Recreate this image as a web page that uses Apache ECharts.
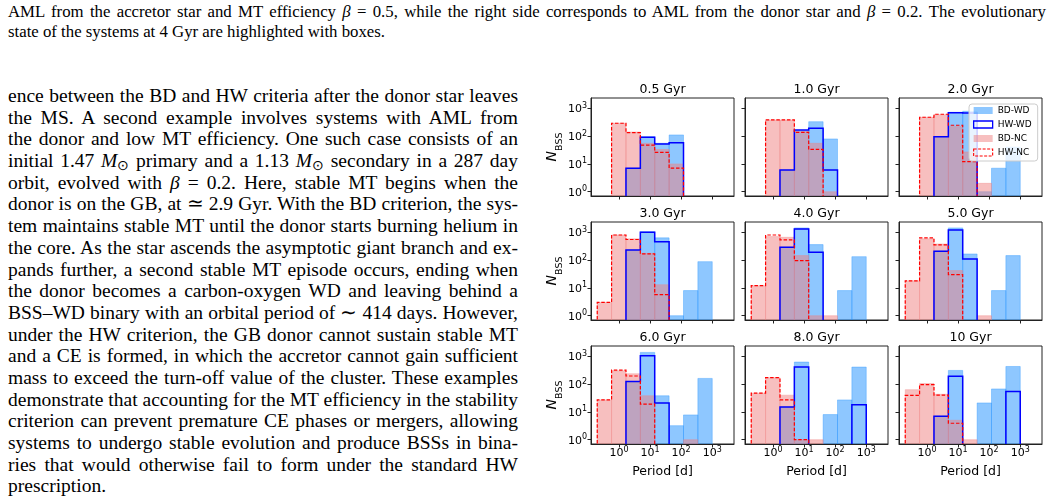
<!DOCTYPE html>
<html><head><meta charset="utf-8">
<script src="https://cdn.jsdelivr.net/npm/echarts@6/dist/echarts.min.js"></script>
<style>
html,body{margin:0;padding:0;background:#fff;width:1056px;height:502px;overflow:hidden;}
.serif{font-family:"Liberation Serif","Times New Roman",serif;color:#000;position:absolute;}
#cap{left:8px;top:2px;width:1038px;font-size:16.8px;}
#cap .l{height:20px;line-height:20px;}
#body{left:8px;top:85px;width:510px;font-size:19.5px;}
#body .l{height:21.7px;line-height:21.7px;}
.l{display:block;white-space:nowrap;text-align:left;}
sub{font-size:0.7em;vertical-align:-0.25em;line-height:0;}
i{font-style:italic;}
#chart{position:absolute;left:530px;top:70px;width:526px;height:432px;}
</style></head>
<body>
<div id="cap" class="serif">
<div class="l">AML from the accretor star and MT efficiency <i>β</i> = 0.5, while the right side corresponds to AML from the donor star and <i>β</i> = 0.2. The evolutionary</div>
<div class="l last">state of the systems at 4 Gyr are highlighted with boxes.</div>
</div>
<div id="body" class="serif">
<div class="l">ence between the BD and HW criteria after the donor star leaves</div>
<div class="l">the MS. A second example involves systems with AML from</div>
<div class="l">the donor and low MT efficiency. One such case consists of an</div>
<div class="l">initial 1.47 <i>M</i><sub>⊙</sub> primary and a 1.13 <i>M</i><sub>⊙</sub> secondary in a 287 day</div>
<div class="l">orbit, evolved with <i>β</i> = 0.2. Here, stable MT begins when the</div>
<div class="l">donor is on the GB, at ≃ 2.9 Gyr. With the BD criterion, the sys-</div>
<div class="l">tem maintains stable MT until the donor starts burning helium in</div>
<div class="l">the core. As the star ascends the asymptotic giant branch and ex-</div>
<div class="l">pands further, a second stable MT episode occurs, ending when</div>
<div class="l">the donor becomes a carbon-oxygen WD and leaving behind a</div>
<div class="l">BSS–WD binary with an orbital period of ∼ 414 days. However,</div>
<div class="l">under the HW criterion, the GB donor cannot sustain stable MT</div>
<div class="l">and a CE is formed, in which the accretor cannot gain sufficient</div>
<div class="l">mass to exceed the turn-off value of the cluster. These examples</div>
<div class="l">demonstrate that accounting for the MT efficiency in the stability</div>
<div class="l">criterion can prevent premature CE phases or mergers, allowing</div>
<div class="l">systems to undergo stable evolution and produce BSSs in bina-</div>
<div class="l">ries that would otherwise fail to form under the standard HW</div>
<div class="l last">prescription.</div>
</div>
<div id="chart"></div>
<script>
// justify each typeset line to its column width
document.querySelectorAll('.l').forEach(el => {
  if (el.classList.contains('last')) return;
  const target = el.parentElement.clientWidth;
  el.style.display = 'inline-block';
  const natural = el.getBoundingClientRect().width;
  el.style.display = 'block';
  const spaces = (el.textContent.replace(/\s+/g, ' ').trim().match(/ /g) || []).length;
  if (spaces > 0) el.style.wordSpacing = ((target - natural) / spaces) + 'px';
});

// ---- data ----
const ages = ['0.5 Gyr','1.0 Gyr','2.0 Gyr','3.0 Gyr','4.0 Gyr','5.0 Gyr','6.0 Gyr','8.0 Gyr','10 Gyr'];
const periodEdges = [0.2, 0.578, 1.68, 4.87, 14.1, 41.0, 119, 345, 1000];
const periodTicks = [1, 10, 100, 1000];
const countTicks = [1, 10, 100, 1000];
const seriesNames = ['BD-WD', 'HW-WD', 'BD-NC', 'HW-NC'];
const bdWD = [
  [0, 0, 7, 95, 55, 110, 0, 0],
  [0, 0, 6, 158, 330, 79, 0, 0],
  [0, 0, 96, 720, 780, 1, 7, 40],
  [0, 0, 230, 1050, 630, 1, 8, 88],
  [0, 0, 290, 1440, 360, 0, 8, 133],
  [0, 0, 210, 1440, 166, 0, 8, 145],
  [0, 0, 123, 1380, 38, 3.2, 7.8, 160],
  [0, 0, 15, 620, 0, 8, 27, 410],
  [0, 0, 7, 310, 0, 21, 67, 430]
];
const hwWD = [
  [0, 0, 7, 90, 52, 58, 0, 0],
  [0, 0, 6, 166, 190, 6, 0, 0],
  [0, 0, 95, 690, 680, 0, 0, 0],
  [0, 0, 230, 1000, 460, 0, 0, 0],
  [0, 0, 290, 1320, 190, 0, 0, 0],
  [0, 0, 210, 1200, 110, 0, 0, 0],
  [0, 0, 123, 1050, 21, 0, 0, 0],
  [0, 0, 15, 410, 0, 0, 0, 18],
  [0, 0, 7, 190, 0, 0, 0, 54]
];
const bdNC = [
  [0, 290, 140, 55, 33, 10, 0, 0],
  [0, 380, 380, 145, 55, 1, 0, 0],
  [0, 475, 590, 220, 27, 2, 0, 0],
  [3, 800, 580, 175, 13, 0, 0, 0],
  [12, 700, 660, 145, 1, 1, 0, 0],
  [18, 580, 380, 42, 0, 1, 0, 0],
  [27, 300, 235, 38, 0, 0, 1, 0],
  [47, 170, 40, 1, 1, 0, 0, 0],
  [63, 105, 43, 5, 1, 0, 0, 0]
];
const hwNC = [
  [0, 290, 133, 47, 26, 7, 0, 0],
  [0, 380, 380, 137, 33, 0, 0, 0],
  [0, 475, 610, 245, 12, 0, 0, 0],
  [3, 800, 550, 166, 5.7, 0, 0, 0],
  [12, 800, 530, 96, 0, 0, 0, 0],
  [18, 630, 350, 30, 0, 0, 0, 0],
  [27, 320, 195, 19, 0, 0, 0, 0],
  [47, 170, 27, 1, 0, 0, 0, 0],
  [39, 96, 40, 3.9, 0, 0, 0, 0]
];

// ---- layout / style ----
const colLeft = [61, 215, 369], rowTop = [28, 152, 276], W = 143, H = 98;
const xMin = Math.pow(10, -0.9), xMax = Math.pow(10, 3.7);
const yMin = Math.pow(10, -0.155), yMax = Math.pow(10, 3.37);
const yFloor = 1e-3;
const FONT = 'DejaVu Sans';
const blueFill = 'rgba(30,144,255,0.5)', pinkFill = 'rgba(240,128,128,0.5)';
const blueLine = '#0000ff', redLine = '#ff0000';
const spine = '#222';

const rich = {
  b: {fontSize: 11, fontFamily: FONT, color: '#000', lineHeight: 13, verticalAlign: 'bottom'},
  s: {fontSize: 8, fontFamily: FONT, color: '#000', lineHeight: 9, verticalAlign: 'top'}
};
const fmt = v => '{b|10}{s|' + Math.round(Math.log10(v)) + '}';

const grids = [], xAxes = [], yAxes = [], series = [], graphics = [];
for (let i = 0; i < 9; i++) {
  const c = i % 3, r = Math.floor(i / 3);
  grids.push({left: colLeft[c], top: rowTop[r], width: W, height: H, show: true,
    borderColor: spine, borderWidth: 1, backgroundColor: 'transparent'});
  xAxes.push({type: 'log', logBase: 10, gridIndex: i, min: xMin, max: xMax, z: 5,
    axisLine: {show: true, lineStyle: {color: spine, width: 1}},
    axisTick: {show: true, inside: false, length: 3.5, lineStyle: {color: spine, width: 1}, customValues: periodTicks},
    axisLabel: {show: r === 2, customValues: periodTicks, margin: 2, formatter: fmt, rich: rich},
    splitLine: {show: false}, minorTick: {show: false}});
  yAxes.push({type: 'log', logBase: 10, gridIndex: i, min: yMin, max: yMax, z: 5,
    axisLine: {show: true, lineStyle: {color: spine, width: 1}},
    axisTick: {show: true, inside: false, length: 3.5, lineStyle: {color: spine, width: 1}, customValues: countTicks},
    axisLabel: {show: c === 0, customValues: countTicks, margin: 4, formatter: fmt, rich: rich},
    splitLine: {show: false}, minorTick: {show: false}});

  const fillSeries = (name, counts, color) => ({
    type: 'custom', name: name, xAxisIndex: i, yAxisIndex: i, clip: true, z: 2, silent: true,
    data: counts.map((v, k) => [periodEdges[k], periodEdges[k + 1], v]).filter(d => d[2] > 0),
    encode: {x: [0, 1], y: 2},
    renderItem: (params, api) => {
      const p0 = api.coord([api.value(0), api.value(2)]);
      const p1 = api.coord([api.value(1), yFloor]);
      return {type: 'rect', shape: {x: p0[0], y: p0[1], width: p1[0] - p0[0], height: p1[1] - p0[1]},
        style: {fill: color, stroke: color, lineWidth: 0.7}};
    }
  });
  const stepSeries = (name, counts, color, dash, lw) => ({
    type: 'custom', name: name, xAxisIndex: i, yAxisIndex: i, clip: true, z: 3, silent: true,
    data: [[1, 1]],
    renderItem: (params, api) => {
      const pts = [api.coord([periodEdges[0], yFloor])];
      counts.forEach((v, k) => {
        const h = v > 0 ? v : yFloor;
        pts.push(api.coord([periodEdges[k], h]));
        pts.push(api.coord([periodEdges[k + 1], h]));
      });
      pts.push(api.coord([periodEdges[periodEdges.length - 1], yFloor]));
      return {type: 'polyline', shape: {points: pts},
        style: {fill: null, stroke: color, lineWidth: lw, lineDash: dash, lineJoin: 'miter'}};
    }
  });
  series.push(fillSeries('BD-WD', bdWD[i], blueFill));
  series.push(fillSeries('BD-NC', bdNC[i], pinkFill));
  series.push(stepSeries('HW-WD', hwWD[i], blueLine, null, 1.5));
  series.push(stepSeries('HW-NC', hwNC[i], redLine, [3.5, 1.8], 1.2));

  graphics.push({type: 'text', x: colLeft[c] + W / 2, y: rowTop[r] - 8.5, z: 10,
    style: {text: ages[i], fontSize: 12.5, fontFamily: FONT, fill: '#000', align: 'center', verticalAlign: 'middle'}});
  if (c === 0) {
    graphics.push({type: 'text', x: 25, y: rowTop[r] + H / 2, rotation: Math.PI / 2, z: 10,
      style: {text: '{n|N}{sub|BSS}', align: 'center', verticalAlign: 'middle',
        rich: {n: {fontSize: 14, fontStyle: 'italic', fontFamily: FONT, fill: '#000', lineHeight: 16, verticalAlign: 'top'},
               sub: {fontSize: 9.5, fontFamily: FONT, fill: '#000', lineHeight: 20, verticalAlign: 'bottom'}}}});
  }
  if (r === 2) {
    graphics.push({type: 'text', x: colLeft[c] + W / 2, y: 402, z: 10,
      style: {text: 'Period [d]', fontSize: 12.5, fontFamily: FONT, fill: '#000', align: 'center', verticalAlign: 'middle'}});
  }
}

const chart = echarts.init(document.getElementById('chart'), null, {renderer: 'canvas'});
chart.setOption({
  animation: false,
  backgroundColor: 'transparent',
  grid: grids, xAxis: xAxes, yAxis: yAxes, series: series,
  graphic: {elements: graphics},
  legend: {
    left: 439, top: 34, orient: 'vertical', selectedMode: false,
    itemWidth: 19, itemHeight: 7, itemGap: 3, padding: [1, 6, 3, 4],
    backgroundColor: 'rgba(255,255,255,0.8)', borderColor: '#cccccc', borderWidth: 1, borderRadius: 3,
    textStyle: {fontSize: 9, fontFamily: FONT, color: '#000', lineHeight: 11},
    data: [
      {name: 'BD-WD', icon: 'rect', itemStyle: {color: blueFill, borderWidth: 0}},
      {name: 'HW-WD', icon: 'rect', itemStyle: {color: 'rgba(0,0,0,0)', borderColor: blueLine, borderWidth: 1.3}},
      {name: 'BD-NC', icon: 'rect', itemStyle: {color: pinkFill, borderWidth: 0}},
      {name: 'HW-NC', icon: 'rect', itemStyle: {color: 'rgba(0,0,0,0)', borderColor: redLine, borderWidth: 1.1, borderType: [3, 1.5]}}
    ]
  }
});
</script>
</body></html>
